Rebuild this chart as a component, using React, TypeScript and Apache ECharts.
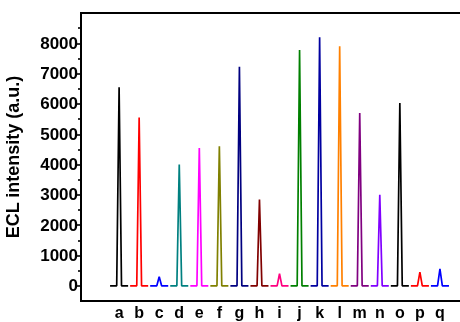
import React, { useEffect, useRef } from "react";
import * as echarts from "echarts";

const categories = ["a", "b", "c", "d", "e", "f", "g", "h", "i", "j", "k", "l", "m", "n", "o", "p", "q"];
const peaks = [6550, 5550, 300, 4000, 4550, 4600, 7230, 2850, 400, 7780, 8200, 7900, 5700, 3000, 6030, 450, 560];
const colors = [
  "#000000", "#ff0000", "#0000ff", "#008080", "#ff00ff", "#808000", "#000080", "#800000",
  "#ff0080", "#008000", "#0000a0", "#ff8000", "#800080", "#8000ff", "#000000", "#ff0000", "#0000ff",
];
const majorTicks = [0, 1000, 2000, 3000, 4000, 5000, 6000, 7000, 8000];
const minorTicks = [500, 1500, 2500, 3500, 4500, 5500, 6500, 7500, 8500];

const FONT = 'Arial, "Liberation Sans", sans-serif';

export default function App() {
  const ref = useRef<HTMLDivElement>(null);
  useEffect(() => {
    if (!ref.current) return;
    const chart = echarts.init(ref.current, null, { renderer: "svg" });
    const series = categories.map((c, i) => ({
      name: c,
      type: "line",
      symbol: "none",
      animation: false,
      lineStyle: { width: 1.7, color: colors[i] },
      itemStyle: { color: colors[i] },
      data: [
        [i - 0.45, 0],
        [i - 0.12, 0],
        [i, peaks[i]],
        [i + 0.12, 0],
        [i + 0.45, 0],
      ],
    }));
    chart.setOption({
      animation: false,
      grid: {
        left: 81,
        right: -2,
        top: 13,
        bottom: 21,
        show: true,
        borderColor: "#000",
        borderWidth: 2,
        backgroundColor: "transparent",
        outerBoundsMode: "none",
        containLabel: false,
      },
      xAxis: {
        type: "value",
        min: -1.9,
        max: 17.1,
        splitLine: { show: false },
        axisLine: { show: false, onZero: false },
        axisTick: { show: false },
        axisLabel: {
          customValues: categories.map((_, i) => i),
          formatter: (v: number) => categories[Math.round(v)] ?? "",
          fontFamily: FONT,
          fontWeight: "bold",
          fontSize: 16,
          lineHeight: 16,
          color: "#000",
          margin: 3,
        },
      },
      yAxis: [
        {
          type: "value",
          min: -500,
          max: 9000,
          position: "left",
          splitLine: { show: false },
          axisLine: { show: false, onZero: false },
          axisTick: { show: true, customValues: majorTicks, length: 5, inside: false, lineStyle: { color: "#000", width: 1.6 } },
          axisLabel: {
            customValues: majorTicks,
            formatter: (v: number) => String(v),
            fontFamily: FONT,
            fontWeight: "bold",
            fontSize: 17,
            color: "#000",
            margin: 3,
          },
          name: "ECL intensity (a.u.)",
          nameLocation: "middle",
          nameGap: 59,
          nameRotate: 90,
          nameTextStyle: { fontFamily: FONT, fontWeight: "bold", fontSize: 18, color: "#000" },
        },
        {
          type: "value",
          min: -500,
          max: 9000,
          position: "left",
          splitLine: { show: false },
          axisLine: { show: false, onZero: false },
          axisTick: { show: true, customValues: minorTicks, length: 3, inside: false, lineStyle: { color: "#000", width: 1.6 } },
          axisLabel: { show: false },
        },
      ],
      series,
    });
    return () => chart.dispose();
  }, []);
  return <div ref={ref} style={{ width: 460, height: 322, position: "fixed", left: 0, top: 0 }} />;
}
